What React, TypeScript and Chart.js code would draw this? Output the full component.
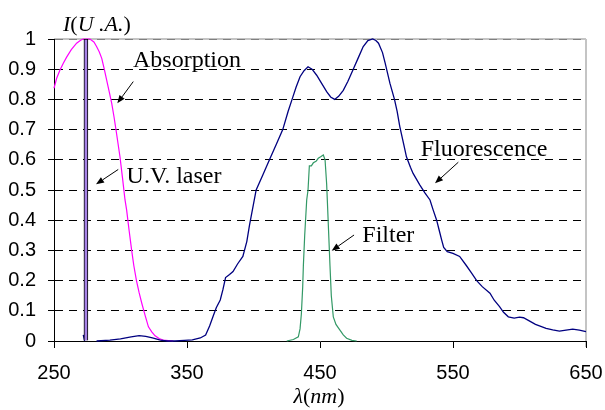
import React, { useEffect, useRef } from "react";
import { Chart, registerables } from "chart.js";

Chart.register(...registerables);

// ---- data (wavelength nm, intensity U.A.) ----
const absorption: [number, number][] = [
  [250, 0.837], [252, 0.87], [254.5, 0.897], [257, 0.92], [259.5, 0.94], [263, 0.965],
  [267, 0.986], [270, 0.996], [272, 1.0], [277, 1.0], [280, 0.99], [282, 0.975],
  [284, 0.958], [285.9, 0.936], [287.8, 0.9], [289.6, 0.864], [291.5, 0.826],
  [293.4, 0.787], [295.2, 0.74], [297, 0.688], [299.6, 0.61], [301.5, 0.54],
  [303.4, 0.467], [304.6, 0.434], [306.5, 0.365], [308.4, 0.3], [310, 0.25],
  [312, 0.2], [314, 0.16], [316, 0.125], [318.5, 0.085], [321, 0.047], [323.5, 0.03],
  [326, 0.017], [329, 0.008], [332, 0.003], [336, 0.001], [339.7, 0],
];

const fluorescence: [number, number | null][] = [
  [272, 0.02], [273, 0], [274, null], [282, 0], [292, 0.003], [300, 0.007], [308, 0.014],
  [314, 0.018], [319, 0.015], [324, 0.01], [330, 0.003], [335, 0], [341, 0], [348, 0.002],
  [354, 0.004], [360, 0.01], [364, 0.02], [367, 0.05], [369.5, 0.08], [372, 0.11],
  [375, 0.136], [377, 0.17], [379, 0.21], [382, 0.22], [384.6, 0.23], [388, 0.255],
  [392, 0.28], [395, 0.33], [397, 0.384], [402, 0.5], [407, 0.55], [412, 0.6],
  [417, 0.65], [422, 0.7], [426, 0.76], [429, 0.8], [432, 0.84], [435, 0.875],
  [438, 0.895], [441, 0.908], [444, 0.9], [447.5, 0.88], [451, 0.855], [455, 0.826],
  [458, 0.808], [461, 0.8], [464, 0.81], [467.5, 0.83], [471, 0.86], [475, 0.9],
  [479, 0.94], [482.5, 0.975], [486, 0.995], [489.6, 1.0], [492, 0.995], [494, 0.986],
  [497, 0.955], [499, 0.92], [502.6, 0.853], [506, 0.8], [508, 0.76], [510, 0.71],
  [513, 0.65], [515, 0.61], [518, 0.575], [520, 0.555], [525, 0.517], [529, 0.49],
  [532.7, 0.467], [535, 0.435], [537.7, 0.4], [540, 0.36], [541.5, 0.334], [543, 0.31],
  [545.7, 0.296], [550, 0.29], [555, 0.28], [560, 0.25], [564, 0.225], [567.8, 0.2],
  [572, 0.18], [577.8, 0.158], [581, 0.135], [585, 0.114], [588, 0.095], [591.6, 0.08],
  [596, 0.076], [600, 0.079], [603, 0.077], [608, 0.065], [612, 0.055], [615, 0.05],
  [620, 0.042], [625, 0.037], [630, 0.033], [635, 0.036], [640, 0.039], [645, 0.036],
  [650, 0.031],
];

const filter: [number, number][] = [
  [425, 0], [430, 0.005], [433.7, 0.014], [435, 0.04], [436, 0.09], [437, 0.18],
  [437.5, 0.25], [438.5, 0.35], [440, 0.467], [441, 0.5], [442, 0.58], [443.5, 0.58],
  [445, 0.59], [447, 0.595], [448.7, 0.605], [450.5, 0.61], [452.5, 0.616], [453.8, 0.6],
  [455, 0.52], [455.5, 0.467], [456.3, 0.38], [457.5, 0.25], [458.5, 0.15], [460, 0.08],
  [462, 0.055], [465, 0.036], [467.5, 0.02], [470, 0.009], [474, 0.002], [477.6, 0],
];

const laser: [number, number][] = [[274, 1]];

const xTicks = [250, 350, 450, 550, 650];
const yTicks = [0, 0.1, 0.2, 0.3, 0.4, 0.5, 0.6, 0.7, 0.8, 0.9, 1];

// annotation labels: [text, lambda, intensity (baseline)]
const labelTexts = ["Absorption", "U.V. laser", "Fluorescence", "Filter"];
const labelLambda = [309.4, 304.6, 525.7, 481.8];
const labelI = [0.908, 0.524, 0.6126, 0.329];
// arrows: tail (lambda, I) -> head (lambda, I)
const arrowTail: [number, number][] = [[309.6, 0.859], [298.3, 0.568], [554, 0.592], [475.6, 0.351]];
const arrowHead: [number, number][] = [[297.6, 0.787], [281.6, 0.519], [536.5, 0.522], [458.8, 0.299]];

const toXY = (arr: [number, number | null][]) => arr.map(([x, y]) => ({ x, y }));

const SERIF = "'Liberation Serif', 'Times New Roman', serif";
const SANS = "'Liberation Sans', Arial, sans-serif";

const drawPieces = (
  ctx: CanvasRenderingContext2D,
  pieces: [string, boolean][],
  x: number,
  y: number,
  size: number,
  align: "left" | "center"
) => {
  const fontFor = (it: boolean) => `${it ? "italic " : ""}${size}px ${SERIF}`;
  let total = 0;
  pieces.forEach(([t, it]) => {
    ctx.font = fontFor(it);
    total += ctx.measureText(t).width;
  });
  let cx = align === "center" ? x - total / 2 : x;
  ctx.textAlign = "left";
  pieces.forEach(([t, it]) => {
    ctx.font = fontFor(it);
    ctx.fillText(t, cx, y);
    cx += ctx.measureText(t).width;
  });
};

const decorPlugin = {
  id: "decor",
  beforeDraw(chart: any) {
    const { ctx, chartArea } = chart;
    ctx.save();
    ctx.strokeStyle = "#c4c4c4";
    ctx.lineWidth = 2;
    ctx.beginPath();
    ctx.moveTo(chartArea.left, chartArea.top);
    ctx.lineTo(chartArea.right, chartArea.top);
    ctx.moveTo(chartArea.right, chartArea.top);
    ctx.lineTo(chartArea.right, chartArea.bottom + 6);
    ctx.stroke();
    ctx.restore();
  },
  afterDraw(chart: any) {
    const { ctx, chartArea, scales } = chart;
    const xs = scales.x;
    const ys = scales.y;
    ctx.save();
    ctx.fillStyle = "#000";
    ctx.strokeStyle = "#000";
    ctx.textBaseline = "alphabetic";
    // annotation texts
    labelTexts.forEach((t, i) => {
      ctx.font = `24px ${SERIF}`;
      ctx.textAlign = "left";
      ctx.fillText(t, xs.getPixelForValue(labelLambda[i]), ys.getPixelForValue(labelI[i]));
    });
    // arrows
    arrowTail.forEach((tail, i) => {
      const x1 = xs.getPixelForValue(tail[0]);
      const y1 = ys.getPixelForValue(tail[1]);
      const x2 = xs.getPixelForValue(arrowHead[i][0]);
      const y2 = ys.getPixelForValue(arrowHead[i][1]);
      const ang = Math.atan2(y2 - y1, x2 - x1);
      const hl = 8;
      const hw = 3.2;
      const bx = x2 - hl * Math.cos(ang);
      const by = y2 - hl * Math.sin(ang);
      ctx.lineWidth = 1;
      ctx.beginPath();
      ctx.moveTo(x1, y1);
      ctx.lineTo(bx, by);
      ctx.stroke();
      ctx.beginPath();
      ctx.moveTo(x2, y2);
      ctx.lineTo(bx + hw * Math.sin(ang), by - hw * Math.cos(ang));
      ctx.lineTo(bx - hw * Math.sin(ang), by + hw * Math.cos(ang));
      ctx.closePath();
      ctx.fill();
    });
    // axis titles
    drawPieces(ctx, [["I", true], ["(", false], ["U .A.", true], [")", false]], chartArea.left + 9, 31, 22, "left");
    drawPieces(ctx, [["λ", true], ["(", false], ["nm", true], [")", false]], (chartArea.left + chartArea.right) / 2 - 1, 403, 22, "center");
    ctx.restore();
  },
};

export default function App() {
  const ref = useRef<HTMLCanvasElement>(null);
  useEffect(() => {
    if (!ref.current) return;
    const chart = new Chart(ref.current, {
      type: "line",
      data: {
        datasets: [
          {
            type: "bar",
            label: "U.V. laser",
            data: toXY(laser),
            backgroundColor: "#a682e6",
            borderColor: "#000",
            borderWidth: 1,
            barThickness: 4,
            order: 0,
          } as any,
          {
            label: "Absorption",
            data: toXY(absorption),
            borderColor: "#ff00ff",
            borderWidth: 1.2,
            pointRadius: 0,
            tension: 0,
            clip: false,
            order: 2,
          },
          {
            label: "Fluorescence",
            data: toXY(fluorescence),
            borderColor: "#000080",
            borderWidth: 1.3,
            pointRadius: 0,
            tension: 0,
            spanGaps: false,
            clip: false,
            order: 1,
          },
          {
            label: "Filter",
            data: toXY(filter),
            borderColor: "#339966",
            borderWidth: 1.2,
            pointRadius: 0,
            tension: 0,
            clip: false,
            order: 1,
          },
        ],
      },
      options: {
        animation: false,
        responsive: false,
        devicePixelRatio: 1,
        layout: { padding: { top: 39, right: 19, left: 0, bottom: 0 } },
        plugins: { legend: { display: false }, tooltip: { enabled: false }, title: { display: false } },
        scales: {
          x: {
            type: "linear",
            min: 250,
            max: 650,
            offset: false,
            afterBuildTicks: (s: any) => {
              s.ticks = xTicks.map((v) => ({ value: v }));
            },
            afterFit: (s: any) => {
              s.height = 69;
              s.paddingLeft = 0;
              s.paddingRight = 0;
            },
            ticks: {
              color: "#000",
              font: { family: SANS, size: 20 },
              padding: 13,
              maxRotation: 0,
              autoSkip: false,
              callback: (v: any) => String(v),
            },
            grid: {
              offset: false,
              drawOnChartArea: false,
              drawTicks: true,
              tickLength: 7,
              tickColor: "#000",
              color: "#000",
            },
            border: { display: true, color: "#000", width: 1 },
          },
          y: {
            type: "linear",
            min: 0,
            max: 1,
            afterBuildTicks: (s: any) => {
              s.ticks = yTicks.map((v) => ({ value: v }));
            },
            afterFit: (s: any) => {
              s.width = 54;
              s.paddingTop = 0;
              s.paddingBottom = 0;
            },
            ticks: {
              color: "#000",
              font: { family: SANS, size: 20 },
              padding: 12,
              autoSkip: false,
              callback: (v: any) => String(Math.round(v * 10) / 10),
            },
            grid: {
              drawTicks: true,
              tickLength: 6,
              tickColor: "#000",
              lineWidth: 1,
              color: (c: any) =>
                c.tick && c.tick.value === 1 ? "#808080" : c.tick && c.tick.value === 0 ? "rgba(0,0,0,0)" : "#000",
            },
            border: { display: true, color: "#000", width: 1, dash: [8, 6] },
          },
        },
      },
      plugins: [decorPlugin],
    });
    return () => chart.destroy();
  }, []);
  return (
    <div style={{ position: "fixed", left: 0, top: 0, width: 605, height: 410, background: "#fff" }}>
      <canvas ref={ref} width={605} height={410} style={{ display: "block", width: 605, height: 410 }} />
    </div>
  );
}
